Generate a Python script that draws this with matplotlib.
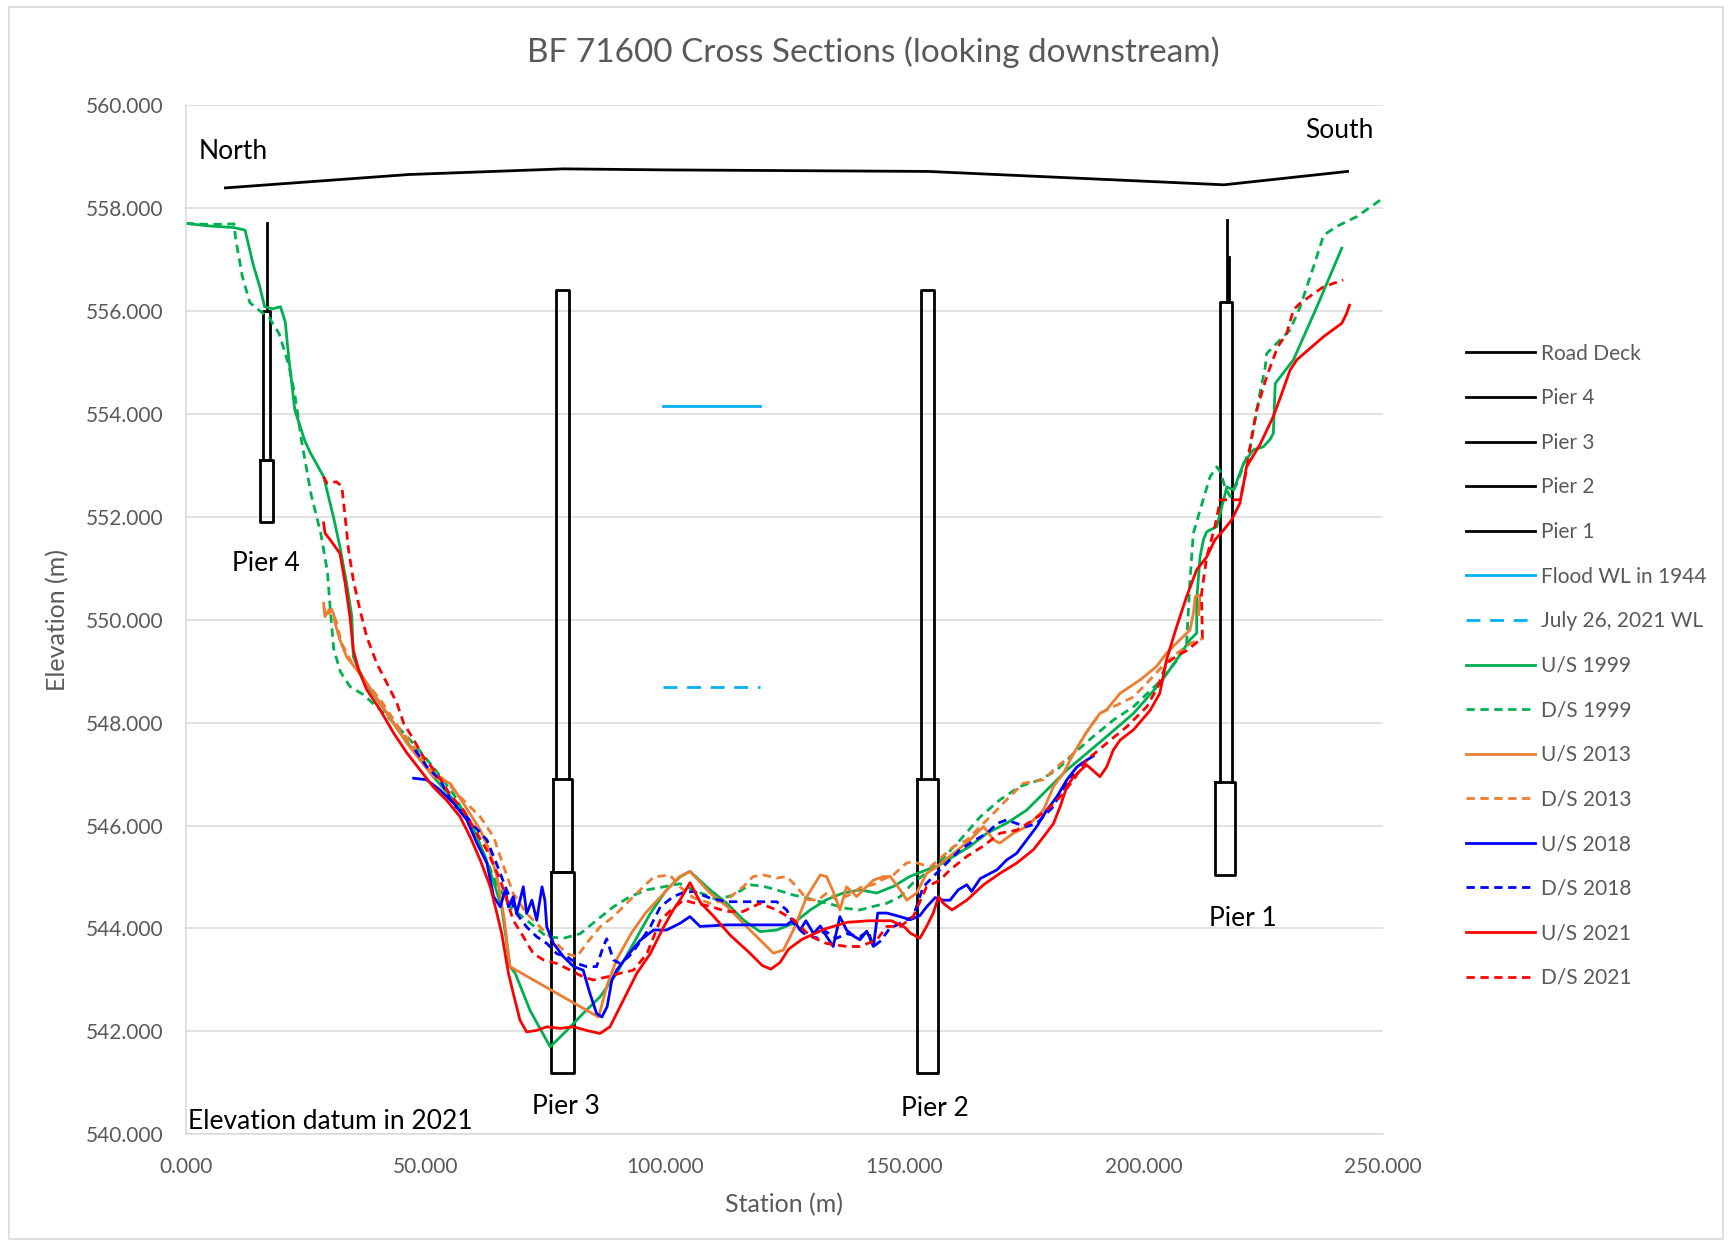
import numpy as np
import matplotlib
matplotlib.use("Agg")
import matplotlib.pyplot as plt
from matplotlib.ticker import FormatStrFormatter, MultipleLocator
from matplotlib.patches import Rectangle

plt.rcParams["font.family"] = ["Lato", "DejaVu Sans"]

# ---- data (station m, elevation m) ----
road_st = [8.3, 46.6, 78.9, 99.6, 155, 216.8, 242.6]
road_el = [558.39, 558.65, 558.76, 558.74, 558.71, 558.45, 558.71]

# pier outlines (nan breaks separate column / footing)
pier4_st = [16.9, 16.9, 16.1, 16.1, 17.7, 17.7, 16.9, np.nan, 15.6, 18.2, 18.2, 15.6, 15.6]
pier4_el = [557.7, 556.0, 556.0, 553.1, 553.1, 556.0, 556.0, np.nan, 553.1, 553.1, 551.9, 551.9, 553.1]
pier3_st = [77.4, 77.4, 80.1, 80.1, np.nan, 76.8, 80.7, 80.7, 76.8, 76.8, np.nan, 76.3, 81.1, 81.1, 76.3, 76.3]
pier3_el = [546.9, 556.4, 556.4, 546.9, np.nan, 546.9, 546.9, 545.1, 545.1, 546.9, np.nan, 545.1, 545.1, 541.2, 541.2, 545.1]
pier2_st = [153.6, 153.6, 156.3, 156.3, np.nan, 152.8, 157.0, 157.0, 152.8, 152.8]
pier2_el = [546.9, 556.4, 556.4, 546.9, np.nan, 546.9, 546.9, 541.2, 541.2, 546.9]
pier1_st = [217.5, 217.5, np.nan, 217.9, 217.9, np.nan, 216.0, 216.0, 218.4, 218.4, np.nan,
            215.0, 219.1, 219.1, 215.0, 215.0]
pier1_el = [557.76, 556.18, np.nan, 557.05, 556.18, np.nan, 546.85, 556.18, 556.18, 546.85, np.nan,
            546.85, 546.85, 545.04, 545.04, 546.85]

wl_st = [99.6, 119.9]
flood1944_el = [554.16, 554.16]
july2021_el = [548.69, 548.69]

us1999_st = [0, 5, 10, 12.4, 14.1, 15.5, 16.5, 18.1, 19.8, 20.8, 21.5, 22.8, 24.9, 26, 28.8, 30.85, 32.2,
             33.6, 34.7, 35, 36.1, 38.5, 41.5, 44.8, 48, 51.7, 55, 58, 60.5, 62.5, 64.5, 66, 67.7, 68.8,
             71.9, 76.1, 79.6, 83, 86.5, 90, 93.5, 97, 100.4, 103.2, 105.3, 109.5, 113, 116.4, 119.9,
             123.4, 126.9, 130.4, 133.8, 137.3, 140.8, 144.3, 147.8, 151.2, 154.7, 156.8, 160.3, 163.8,
             167.3, 171.5, 175.6, 179.8, 184, 188.1, 192.3, 197.9, 203.4, 206.9, 209.7, 211.1, 211.1,
             211.8, 212.5, 213.2, 215.3, 217.4, 218.8, 220.9, 222.9, 225, 226.4, 227.1, 227.5, 231.3,
             236.2, 241.4]
us1999_el = [557.7, 557.65, 557.62, 557.57, 556.9, 556.46, 556.08, 556.04, 556.08, 555.78, 555.11,
             554.07, 553.47, 553.25, 552.78, 552.0, 551.42, 550.71, 550.06, 549.28, 549.03, 548.64,
             548.25, 547.8, 547.4, 546.95, 546.6, 546.25, 545.85, 545.4, 544.85, 544.4, 543.26, 543.13,
             542.41, 541.7, 542.02, 542.35, 542.67, 543.13, 543.71, 544.29, 544.75, 545.0, 545.11,
             544.75, 544.49, 544.17, 543.94, 543.97, 544.1, 544.36, 544.56, 544.69, 544.75, 544.69,
             544.82, 545.01, 545.14, 545.2, 545.4, 545.6, 545.85, 546.05, 546.3, 546.69, 547.08, 547.4,
             547.73, 548.18, 548.76, 549.22, 549.61, 549.74, 550.38, 551.22, 551.55, 551.71, 551.81,
             552.58, 552.52, 553.04, 553.3, 553.36, 553.5, 553.62, 554.59, 555.05, 556.08, 557.22]

ds1999_st = [0, 5, 10.1, 10.4, 11.8, 13.4, 15.5, 17.5, 19.5, 21.5, 22.8, 24.2, 26.2, 28.2, 29.6, 30.2,
             30.9, 32.3, 34.3, 37, 40, 44, 48, 52, 56, 59, 62, 65, 68, 71.2, 75.4, 78.9, 82.4, 85.8,
             89.3, 92.8, 96.3, 99.8, 103.2, 106, 110.9, 114.4, 117.8, 120.6, 123.4, 126.9, 129.7, 132.5,
             135.2, 138, 140.8, 143.6, 146.4, 149.2, 152, 155, 157.5, 161.7, 165.9, 170, 174.2, 178.4,
             181.9, 185.4, 189.5, 193.7, 197.9, 203.4, 206.9, 209, 209.7, 210.4, 211.8, 213.9, 215.3,
             216, 217, 218.1, 219.5, 222.3, 224.3, 225.4, 225.7, 227.8, 230.6, 232.7, 235.5, 237.6,
             240.3, 244.5, 250]
ds1999_el = [557.7, 557.68, 557.69, 557.43, 556.68, 556.16, 556.0, 555.86, 555.56, 554.96, 554.37,
             553.47, 552.43, 551.68, 550.93, 550.19, 549.44, 548.99, 548.7, 548.55, 548.3, 547.95,
             547.55, 547.1, 546.6, 546.1, 545.5, 544.85, 544.4, 544.16, 543.84, 543.81, 543.9, 544.16,
             544.42, 544.62, 544.75, 544.81, 544.87, 544.75, 544.56, 544.65, 544.85, 544.82, 544.75,
             544.65, 544.59, 544.52, 544.46, 544.39, 544.36, 544.43, 544.49, 544.62, 544.9, 545.1,
             545.3, 545.72, 546.17, 546.5, 546.76, 546.89, 547.08, 547.4, 547.73, 548.05, 548.31,
             548.8, 549.2, 549.55, 550.77, 551.68, 552.13, 552.78, 552.97, 552.88, 552.58, 552.39,
             552.65, 553.36, 554.4, 554.9, 555.17, 555.37, 555.63, 556.08, 556.86, 557.47, 557.64,
             557.83, 558.19]

us2013_st = [28.8, 29.1, 30, 30.85, 31.2, 32.2, 33.6, 35.7, 37.8, 40.6, 43.4, 46.2, 48.9, 51.7, 55.2,
             58, 61.5, 63.5, 65, 66.5, 67.7, 86.2, 88, 90, 93, 96, 100, 103, 105.3, 109.5, 113, 117.1,
             119.9, 122.7, 124.8, 126.9, 129.7, 132.5, 133.8, 135.2, 136.6, 138, 140.1, 141.5, 143.6,
             145.7, 147.1, 149.2, 150.6, 152.6, 154.7, 156.8, 160.3, 163.5, 166.6, 168.7, 170, 172.8,
             175.6, 179.1, 181.2, 183.3, 185.4, 188, 190.9, 192.3, 195.1, 199.3, 202.7, 204.8, 207.6,
             209.7, 210.4, 210.8, 211.8, 211.5]
us2013_el = [550.32, 550.06, 550.2, 550.13, 549.93, 549.61, 549.28, 549.03, 548.77, 548.38, 547.99,
             547.6, 547.28, 546.95, 546.82, 546.43, 545.92, 545.5, 545.0, 544.2, 543.26, 542.28, 542.9,
             543.4, 543.9, 544.3, 544.7, 545.0, 545.11, 544.69, 544.43, 544.04, 543.78, 543.52, 543.58,
             543.97, 544.62, 545.04, 545.01, 544.72, 544.36, 544.81, 544.62, 544.75, 544.94, 545.01,
             545.01, 544.75, 544.55, 544.69, 545.07, 545.2, 545.46, 545.7, 545.98, 545.72, 545.66,
             545.85, 545.98, 546.3, 546.76, 547.02, 547.4, 547.8, 548.18, 548.25, 548.57, 548.83,
             549.09, 549.35, 549.61, 549.8, 550.12, 550.45, 550.48, 550.1]

ds2013_st = [28.8, 29.4, 30.5, 31.5, 32.5, 34.5, 37.5, 41, 44.5, 47.5, 51, 54.5, 57.3, 61.5, 64.3, 66.4,
             68.4, 71.2, 74, 76.8, 79.6, 81.7, 83.7, 86.5, 89.3, 92.1, 94.9, 97.7, 101.1, 103.2, 106,
             109.5, 113, 116.4, 118.5, 120.6, 123.4, 125.5, 127.6, 129.7, 132, 134, 136, 138.5, 141,
             143.5, 145.5, 147.8, 149.2, 150.5, 151.9, 153.5, 155.5, 158, 160.3, 163.1, 165.9, 168.7,
             171.4, 174.9, 179.1, 181.9, 185.4, 188, 190.9, 193.7, 197.9, 201, 204, 207, 210, 212.5]
ds2013_el = [550.25, 550.05, 550.2, 549.95, 549.55, 549.2, 548.8, 548.4, 547.9, 547.55, 547.1, 546.85,
             546.56, 546.17, 545.78, 545.2, 544.68, 544.29, 544.03, 543.77, 543.51, 543.45, 543.71,
             544.03, 544.23, 544.49, 544.75, 545.0, 545.04, 544.81, 544.6, 544.49, 544.56, 544.81,
             545.01, 545.04, 544.98, 545.01, 544.81, 544.56, 544.55, 544.7, 544.55, 544.65, 544.8,
             544.85, 544.95, 545.04, 545.17, 545.27, 545.3, 545.25, 545.2, 545.4, 545.59, 545.72,
             545.98, 546.24, 546.5, 546.82, 546.89, 547.14, 547.4, 547.8, 548.18, 548.31, 548.5, 548.8,
             549.1, 549.35, 549.55, 549.64]

us2018_st = [47.6, 50.3, 53, 55.9, 58.7, 60.8, 62.9, 64.3, 65.7, 66.7, 67.4, 68.4, 69.1, 69.8, 70.5,
             71.2, 72.3, 73.3, 74.4, 75, 75.4, 76.8, 78.9, 81, 83, 84.4, 85.8, 86.9, 88, 89, 90, 92.5,
             94.9, 97.7, 100.4, 103.2, 105.3, 107.4, 113, 119.9, 125.5, 126.9, 128.3, 129.5, 131.1,
             132.5, 133.8, 135.2, 136.6, 138, 139.5, 140.8, 142.2, 143.6, 144.5, 146.4, 149.2, 151.3,
             153.3, 154.7, 156.5, 158.2, 159.6, 161.3, 163.1, 164.1, 165.9, 169.4, 171.4, 173.5, 175.6,
             177.7, 179.8, 181.9, 184, 186.1, 188.1, 189.5]
us2018_el = [546.92, 546.89, 546.7, 546.44, 546.11, 545.66, 545.27, 544.62, 544.42, 544.75, 544.42,
             544.62, 544.29, 544.55, 544.81, 544.29, 544.55, 544.16, 544.81, 544.55, 544.03, 543.71,
             543.45, 543.26, 543.19, 542.74, 542.35, 542.28, 542.48, 543.0, 543.19, 543.5, 543.77,
             543.97, 543.97, 544.1, 544.23, 544.04, 544.07, 544.07, 544.07, 544.17, 543.97, 544.15,
             543.9, 544.05, 543.85, 543.65, 544.23, 543.97, 543.85, 543.78, 543.95, 543.65, 544.3,
             544.3, 544.23, 544.17, 544.25, 544.42, 544.6, 544.55, 544.55, 544.75, 544.85, 544.72,
             544.97, 545.14, 545.33, 545.46, 545.72, 545.98, 546.3, 546.56, 546.89, 547.14, 547.27,
             547.35]

ds2018_st = [47.9, 50.3, 53.1, 55.9, 58.5, 60.1, 62.9, 64.9, 67, 69.1, 71.2, 73.3, 75.4, 77.5, 79.6,
             81.7, 83.7, 85.8, 87.2, 87.9, 89.3, 90.7, 92.5, 94.2, 97, 99.1, 101.8, 104, 106, 109.5, 113,
             116.4, 119.9, 123.4, 125.5, 126.9, 129, 131.8, 133.5, 135.9, 138, 140.8, 142.5, 143.6, 145,
             147, 149.2, 151.9, 154, 156.1, 158.9, 161.7, 164.5, 167.3, 169.4, 171.4, 173.5, 175.6,
             177.7, 179.8, 181.2, 182.6, 184, 185.5]
ds2018_el = [547.47, 547.15, 546.89, 546.4, 546.2, 546.0, 545.72, 545.26, 544.75, 544.29, 544.03,
             543.84, 543.71, 543.51, 543.45, 543.32, 543.26, 543.26, 543.65, 543.8, 543.39, 543.32,
             543.45, 543.65, 544.03, 544.42, 544.62, 544.7, 544.72, 544.59, 544.52, 544.52, 544.52,
             544.52, 544.36, 544.1, 543.91, 543.81, 543.95, 543.81, 543.9, 543.84, 543.95, 543.65,
             543.75, 544.0, 544.1, 544.23, 544.81, 545.01, 545.27, 545.53, 545.7, 545.85, 546.04,
             546.11, 546.04, 545.98, 546.04, 546.24, 546.37, 546.63, 546.82, 547.0]

us2021_st = [28.8, 29.1, 30.2, 32.2, 33.3, 34.3, 35, 36.1, 37.8, 40.6, 43.4, 46.2, 48.95, 51.7, 54.5,
             57.3, 59.4, 61.5, 63.6, 65, 66, 66.7, 67.4, 68.4, 69.8, 71.2, 73.3, 75.4, 78.2, 81, 83.7,
             86.5, 88.6, 90, 92.1, 94.2, 97, 99.8, 101.8, 103.2, 105.3, 107.5, 110.1, 113.8, 117.6,
             120.4, 122.2, 124.1, 125.9, 128.7, 133.4, 138.1, 142.7, 147.4, 150.2, 151.3, 153.3, 154.7,
             156.1, 157.2, 158.2, 160, 163.1, 166.6, 170, 173.5, 177, 179.1, 181.2, 182.6, 184, 185.4,
             188.1, 190.9, 192.3, 193.7, 195.1, 197.9, 201.4, 203.4, 204.8, 206.9, 209, 211.1, 213.2,
             214.9, 216.7, 218.4, 220.1, 220.9, 221.5, 224.3, 227.1, 228.5, 230.6, 232, 237.6, 241.4,
             242.4, 243]
us2021_el = [551.88, 551.68, 551.55, 551.29, 550.71, 550.06, 549.41, 549.03, 548.64, 548.25, 547.8,
             547.41, 547.08, 546.75, 546.49, 546.17, 545.78, 545.33, 544.81, 544.29, 543.9, 543.51,
             543.13, 542.74, 542.22, 541.99, 542.02, 542.09, 542.06, 542.09, 542.02, 541.96, 542.09,
             542.35, 542.74, 543.13, 543.51, 544.03, 544.36, 544.55, 544.89, 544.5, 544.25, 543.86,
             543.54, 543.28, 543.21, 543.34, 543.6, 543.79, 543.99, 544.12, 544.15, 544.15, 544.02,
             543.91, 543.81, 544.04, 544.3, 544.62, 544.49, 544.36, 544.55, 544.85, 545.07, 545.27,
             545.53, 545.78, 546.04, 546.37, 546.76, 546.95, 547.18, 546.95, 547.14, 547.47, 547.66,
             547.86, 548.24, 548.57, 549.22, 549.86, 550.45, 550.97, 551.22, 551.55, 551.74, 551.94,
             552.26, 552.65, 552.97, 553.4, 553.95, 554.3, 554.85, 555.05, 555.5, 555.76, 555.95, 556.11]

ds2021_st = [28.8, 29.5, 31.5, 32.6, 33.3, 34, 35, 36.4, 37.8, 39.9, 42, 44.1, 45.5, 47.6, 49.6, 52.4,
             55.2, 58, 60.8, 62.9, 65.7, 68.4, 70.5, 72.6, 74.7, 77.5, 80.3, 83, 85.1, 88, 90.7, 93.5,
             96.3, 99.1, 101.8, 104, 106, 109.5, 113, 116.4, 119.9, 123.4, 126.9, 130.4, 133.8, 138,
             140.8, 144.3, 146.4, 149.2, 151.9, 154.7, 157.5, 159.6, 163.1, 166.5, 170, 173.5, 177,
             179.8, 182.6, 185.4, 188.1, 192.3, 196.5, 200.7, 203, 204.8, 207, 209, 211, 212.3, 212.1,
             213.2, 214.9, 215.6, 216, 220.2, 221.5, 222.6, 223.6, 225.7, 228, 229.9, 231.3, 232.7,
             237.6, 241.7]
ds2021_el = [552.78, 552.65, 552.68, 552.59, 552.0, 551.36, 550.77, 550.19, 549.67, 549.15, 548.77,
             548.38, 547.99, 547.67, 547.34, 547.02, 546.6, 546.3, 545.85, 545.52, 544.94, 544.16,
             543.84, 543.51, 543.39, 543.32, 543.19, 543.06, 543.0, 543.06, 543.13, 543.19, 543.51,
             544.16, 544.4, 544.55, 544.5, 544.43, 544.33, 544.33, 544.49, 544.36, 544.17, 543.85,
             543.71, 543.65, 543.65, 543.78, 544.04, 544.04, 544.23, 544.81, 544.94, 545.14, 545.4,
             545.6, 545.85, 545.91, 546.11, 546.3, 546.56, 546.89, 547.27, 547.6, 547.92, 548.31, 548.7,
             549.15, 549.3, 549.4, 549.55, 549.65, 550.5, 551.22, 551.81, 552.13, 552.33, 552.33,
             552.91, 553.56, 554.07, 554.72, 555.3, 555.56, 556.02, 556.15, 556.47, 556.6]

green = "#00B050"
orange = "#ED7D31"
blue = "#0000FF"
red = "#FF0000"
wl_blue = "#00B0F0"
grey_txt = "#595959"
dash = (0, (3, 2))
lw_data = 2.0

fig = plt.figure(figsize=(17.32, 12.46), dpi=100)
ax = fig.add_axes([0.1072, 0.0896, 0.6913, 0.8261])

ax.plot(road_st, road_el, color="black", lw=2, label="Road Deck")
ax.plot(pier4_st, pier4_el, color="black", lw=2, label="Pier 4")
ax.plot(pier3_st, pier3_el, color="black", lw=2, label="Pier 3")
ax.plot(pier2_st, pier2_el, color="black", lw=2, label="Pier 2")
ax.plot(pier1_st, pier1_el, color="black", lw=2, label="Pier 1")
ax.plot(wl_st, flood1944_el, color=wl_blue, lw=2, label="Flood WL in 1944")
ax.plot(wl_st, july2021_el, color=wl_blue, lw=2, ls=(0, (5, 3.5)), label="July 26, 2021 WL")
ax.plot(us1999_st, us1999_el, color=green, lw=lw_data, label="U/S 1999")
ax.plot(ds1999_st, ds1999_el, color=green, lw=lw_data, ls=dash, label="D/S 1999")
ax.plot(us2013_st, us2013_el, color=orange, lw=lw_data, label="U/S 2013")
ax.plot(ds2013_st, ds2013_el, color=orange, lw=lw_data, ls=dash, label="D/S 2013")
ax.plot(us2018_st, us2018_el, color=blue, lw=lw_data, label="U/S 2018")
ax.plot(ds2018_st, ds2018_el, color=blue, lw=lw_data, ls=dash, label="D/S 2018")
ax.plot(us2021_st, us2021_el, color=red, lw=lw_data, label="U/S 2021")
ax.plot(ds2021_st, ds2021_el, color=red, lw=lw_data, ls=dash, label="D/S 2021")

ax.set_xlim(0, 250)
ax.set_ylim(540, 560)
ax.xaxis.set_major_locator(MultipleLocator(50))
ax.yaxis.set_major_locator(MultipleLocator(2))
ax.xaxis.set_major_formatter(FormatStrFormatter("%.3f"))
ax.yaxis.set_major_formatter(FormatStrFormatter("%.3f"))
ax.tick_params(axis="both", length=0, labelsize=15, labelcolor=grey_txt)
ax.tick_params(axis="y", pad=16)
ax.tick_params(axis="x", pad=16)
ax.grid(axis="y", color="#D9D9D9", lw=1.1)
ax.set_axisbelow(True)
for s in ["top", "right"]:
    ax.spines[s].set_visible(False)
for s in ["left", "bottom"]:
    ax.spines[s].set_color("#D9D9D9")
    ax.spines[s].set_linewidth(1.1)

ax.set_ylabel("Elevation (m)", fontsize=18, color=grey_txt)
ax.set_xlabel("Station (m)", fontsize=18, color=grey_txt)
ax.yaxis.set_label_coords(-0.097, 0.5)
ax.xaxis.set_label_coords(0.5, -0.057)

# text labels on the chart
lab_fs = 19
ax.text(2.8, 559.1, "North", fontsize=lab_fs, va="center", ha="left")
ax.text(248, 559.5, "South", fontsize=lab_fs, va="center", ha="right")
ax.text(16.8, 551.1, "Pier 4", fontsize=lab_fs, va="center", ha="center")
ax.text(79.3, 540.55, "Pier 3", fontsize=lab_fs, va="center", ha="center")
ax.text(156.4, 540.5, "Pier 2", fontsize=lab_fs, va="center", ha="center")
ax.text(220.7, 544.2, "Pier 1", fontsize=lab_fs, va="center", ha="center")
ax.text(0.5, 540.25, "Elevation datum in 2021", fontsize=lab_fs, va="center", ha="left")

fig.text(0.504, 0.958, "BF 71600 Cross Sections (looking downstream)", fontsize=24,
         color=grey_txt, ha="center", va="center")

leg = fig.legend(loc="upper left", bbox_to_anchor=(0.8405, 0.7325), frameon=False, fontsize=15,
                 handlelength=3.3, handletextpad=0.3, labelspacing=1.18, borderpad=0)
for t in leg.get_texts():
    t.set_color(grey_txt)

fig.patches.append(Rectangle((0.005, 0.006), 0.99, 0.988, transform=fig.transFigure,
                             fill=False, edgecolor="#D9D9D9", lw=1.2))

fig.savefig("out.png", dpi=100)
